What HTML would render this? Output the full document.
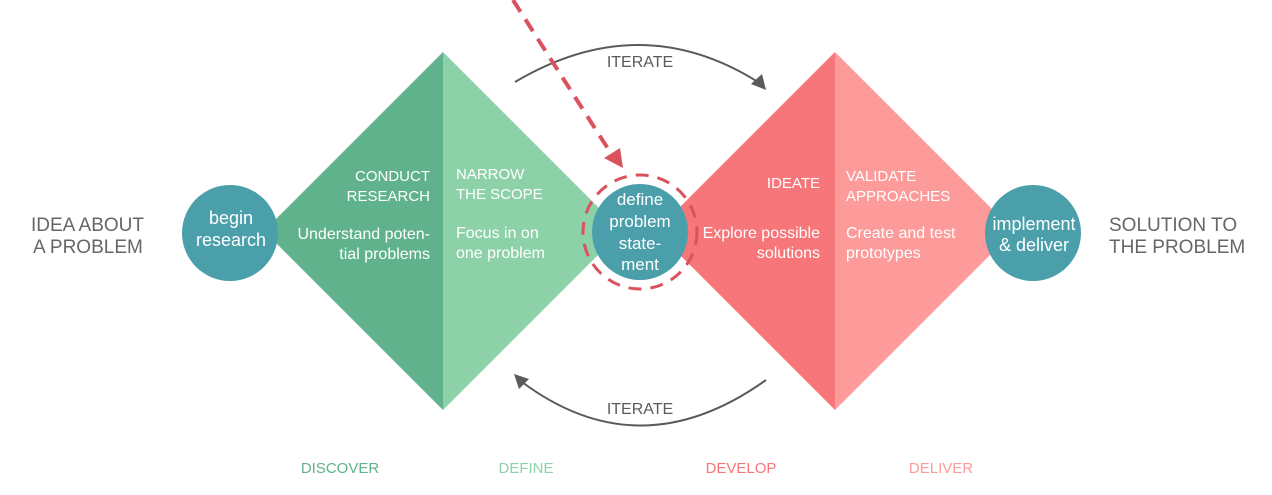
<!DOCTYPE html>
<html><head><meta charset="utf-8"><style>
html,body{margin:0;padding:0;background:#fff;}
svg{display:block;}
text{font-family:"Liberation Sans",sans-serif;}
</style></head><body>
<svg width="1272" height="495" viewBox="0 0 1272 495" xmlns="http://www.w3.org/2000/svg">
<!-- diamonds -->
<polygon points="264,231 443,52 443,410" fill="#5fb28b"/>
<polygon points="443,52 622,231 443,410" fill="#8dd1a9"/>
<polygon points="656,231 835,52 835,410" fill="#f6767a"/>
<polygon points="835,52 1014,231 835,410" fill="#fd9a9a"/>
<!-- iterate arcs -->
<path d="M515,82 Q640,8 758,82" fill="none" stroke="#5a5a5a" stroke-width="2"/>
<polygon points="766,90 751,84 762,74" fill="#5a5a5a"/>
<path d="M766,380 Q640,470 522,382" fill="none" stroke="#5a5a5a" stroke-width="2"/>
<polygon points="514,374 529,379 519,389" fill="#5a5a5a"/>
<text x="640" y="67" font-size="16" fill="#5a5a5a" text-anchor="middle">ITERATE</text>
<text x="640" y="414" font-size="16" fill="#5a5a5a" text-anchor="middle">ITERATE</text>
<!-- red dashed arrow -->
<line x1="513" y1="0" x2="612" y2="155" stroke="#d9525e" stroke-width="4" stroke-dasharray="14,9"/>
<polygon points="623,168 604,158 620,148" fill="#d9525e"/>
<!-- circles -->
<circle cx="230" cy="233" r="48" fill="#4a9faa"/>
<circle cx="640" cy="232" r="48" fill="#4a9faa"/>
<circle cx="640" cy="232" r="57" fill="none" stroke="#d9525e" stroke-width="3" stroke-dasharray="13,9"/>
<circle cx="1033" cy="233" r="48" fill="#4a9faa"/>
<g fill="#fff" font-size="18" text-anchor="middle">
<text x="231" y="224">begin</text>
<text x="231" y="246">research</text>
<text x="1034" y="230">implement</text>
<text x="1034" y="251">&amp; deliver</text>
</g>
<g fill="#fff" font-size="17" text-anchor="middle">
<text x="640" y="205">define</text>
<text x="640" y="227">problem</text>
<text x="640" y="249">state-</text>
<text x="640" y="270">ment</text>
</g>
<g fill="#fff" font-size="15">
<text x="430" y="181" text-anchor="end">CONDUCT</text>
<text x="430" y="201" text-anchor="end">RESEARCH</text>
<text x="430" y="239" text-anchor="end" font-size="16">Understand poten-</text>
<text x="430" y="259" text-anchor="end" font-size="16">tial problems</text>
<text x="456" y="179">NARROW</text>
<text x="456" y="199">THE SCOPE</text>
<text x="456" y="238" font-size="16">Focus in on</text>
<text x="456" y="258" font-size="16">one problem</text>
<text x="820" y="188" text-anchor="end">IDEATE</text>
<text x="820" y="238" text-anchor="end" font-size="16">Explore possible</text>
<text x="820" y="258" text-anchor="end" font-size="16">solutions</text>
<text x="846" y="181">VALIDATE</text>
<text x="846" y="201">APPROACHES</text>
<text x="846" y="238" font-size="16">Create and test</text>
<text x="846" y="258" font-size="16">prototypes</text>
</g>
<g font-size="19" fill="#666">
<text x="31" y="231">IDEA ABOUT</text>
<text x="33" y="253">A PROBLEM</text>
<text x="1109" y="231">SOLUTION TO</text>
<text x="1109" y="253">THE PROBLEM</text>
</g>
<g font-size="15" text-anchor="middle">
<text x="340" y="473" fill="#5fb28b">DISCOVER</text>
<text x="526" y="473" fill="#8dd1a9">DEFINE</text>
<text x="741" y="473" fill="#f6767a">DEVELOP</text>
<text x="941" y="473" fill="#fd9a9a">DELIVER</text>
</g>
</svg>
</body></html>
